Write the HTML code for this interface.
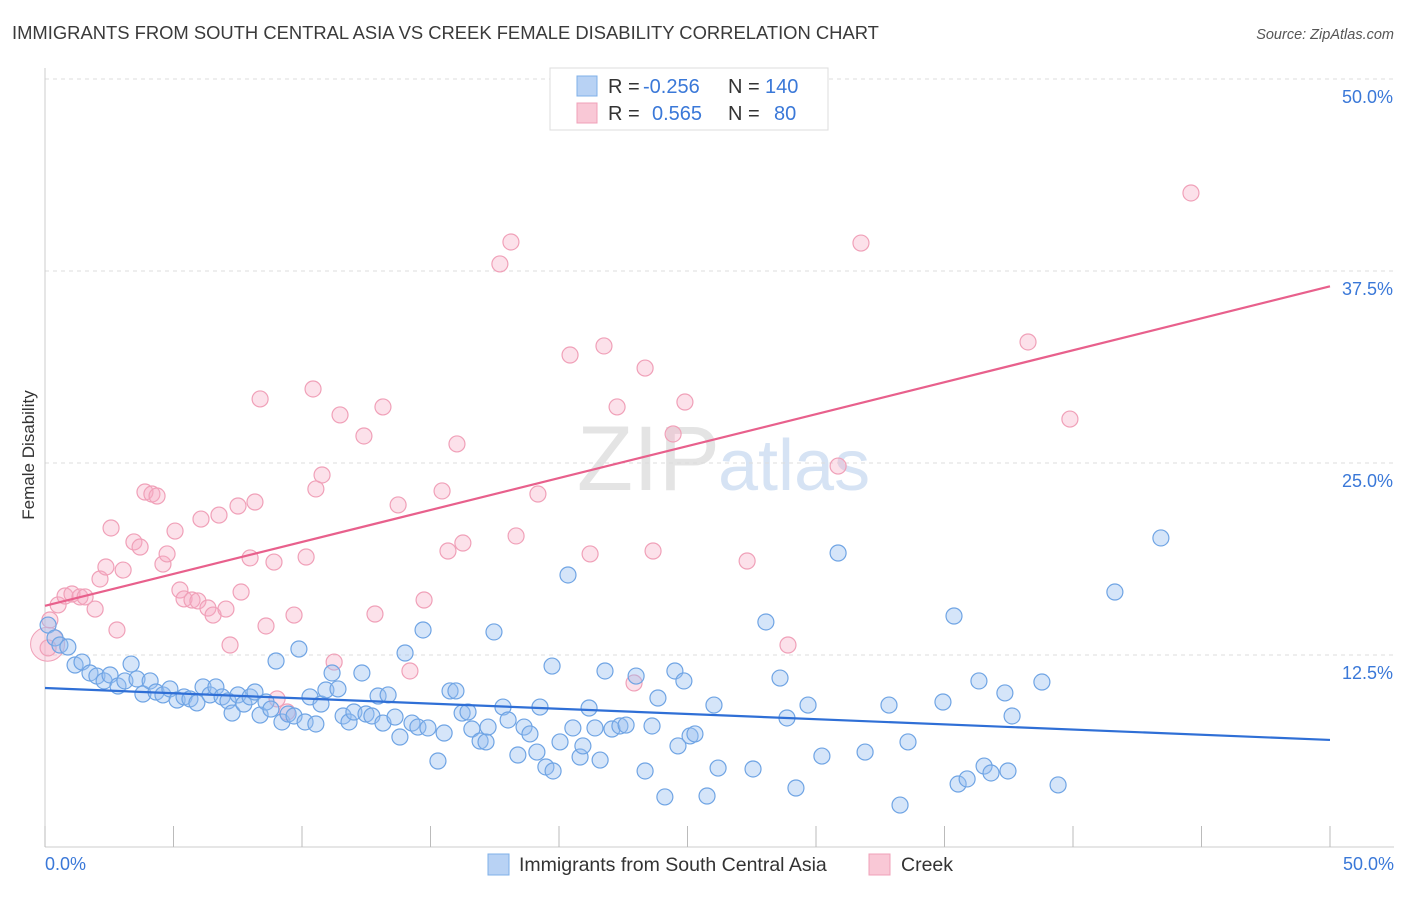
<!DOCTYPE html>
<html><head><meta charset="utf-8"><style>
body{margin:0;background:#fff;font-family:"Liberation Sans",sans-serif;}
svg text{font-family:"Liberation Sans",sans-serif;}
</style></head><body>
<svg id="chart" width="1406" height="892" viewBox="0 0 1406 892">
<text x="12" y="39" font-size="18.4" fill="#3a3a3a">IMMIGRANTS FROM SOUTH CENTRAL ASIA VS CREEK FEMALE DISABILITY CORRELATION CHART</text>
<text x="1394" y="39" font-size="14.5" fill="#555" font-style="italic" text-anchor="end">Source: ZipAtlas.com</text>
<text x="720" y="490" font-size="92" fill="#e4e4e4" text-anchor="end" font-family="Liberation Serif">ZIP</text>
<text x="718" y="490" font-size="72" fill="#d6e3f4">atlas</text>
<g id="grid"></g><g id="axes"></g><g id="marks"></g><g id="lines"></g>
<text x="34" y="455" font-size="17" fill="#333" text-anchor="middle" transform="rotate(-90 34 455)">Female Disability</text>
<g>
<rect x="550" y="68" width="278" height="62" fill="#fff" stroke="#ddd"/>
<rect x="577" y="76" width="20" height="20" fill="#b8d2f4" stroke="#7fb0e8"/>
<rect x="577" y="103" width="20" height="20" fill="#f9c8d6" stroke="#f0a0b8"/>
<text x="608" y="93" font-size="20" fill="#333">R = </text><text x="643" y="93" font-size="20" fill="#3a78d8">-0.256</text>
<text x="728" y="93" font-size="20" fill="#333">N = </text><text x="765" y="93" font-size="20" fill="#3a78d8">140</text>
<text x="608" y="120" font-size="20" fill="#333">R = </text><text x="652" y="120" font-size="20" fill="#3a78d8">0.565</text>
<text x="728" y="120" font-size="20" fill="#333">N = </text><text x="774" y="120" font-size="20" fill="#3a78d8">80</text>
</g>
<g>
<rect x="488" y="854" width="21" height="21" fill="#b8d2f4" stroke="#7fb0e8"/>
<text x="519" y="871" font-size="19.5" fill="#333">Immigrants from South Central Asia</text>
<rect x="869" y="854" width="21" height="21" fill="#f9c8d6" stroke="#f0a0b8"/>
<text x="901" y="871" font-size="19.5" fill="#333">Creek</text>
</g>
</svg>
<script>
const yTicks=[12.5,25,37.5,50];
const yTickLabels=["12.5%","25.0%","37.5%","50.0%"];
const xTickLabels=["0.0%","50.0%"];
const blueX=[.12,.39,.58,.89,1.17,1.44,1.75,2.02,2.30,2.53,2.84,3.11,3.35,3.58,3.81,4.09,4.32,4.59,4.86,5.14,5.41,5.64,5.91,6.15,6.42,6.65,6.89,7.12,7.28,7.51,7.74,7.98,8.17,8.37,8.60,8.79,8.99,9.22,9.46,9.69,9.88,10.12,10.31,10.54,10.74,10.93,11.17,11.40,11.60,11.83,12.02,12.33,12.49,12.72,12.96,13.15,13.35,13.62,13.81,14.01,14.28,14.51,14.71,14.90,15.29,15.53,15.76,15.99,16.23,16.46,16.61,16.93,17.16,17.24,17.47,17.82,18.02,18.40,18.64,18.87,19.14,19.26,19.49,19.77,19.73,20.04,20.35,20.54,20.82,20.93,21.17,21.40,21.60,21.79,22.06,22.37,22.61,23.00,23.35,23.62,23.85,24.12,24.51,24.63,24.86,25.10,25.29,25.76,26.03,26.19,27.55,28.05,28.60,28.87,29.22,29.69,30.23,30.86,31.91,32.84,33.27,33.58,34.94,35.37,35.53,35.88,36.34,36.54,36.81,37.35,37.47,37.63,38.79,39.42,41.63,43.42];
const blueY=[14.45,13.61,13.15,13.02,11.85,12.04,11.33,11.13,10.81,11.20,10.48,10.81,11.91,10.94,9.96,10.81,10.09,9.90,10.29,9.57,9.77,9.64,9.38,10.42,9.90,10.42,9.77,9.51,8.72,9.90,9.31,9.77,10.09,8.59,9.44,8.98,12.11,8.14,8.66,8.53,12.89,8.14,9.77,8.01,9.31,10.22,11.33,10.29,8.53,8.14,8.79,11.33,8.66,8.53,9.83,8.07,9.90,8.46,7.16,12.63,8.07,7.81,14.13,7.75,5.60,7.42,10.16,10.16,8.72,8.79,7.68,6.90,6.84,7.81,14.00,9.11,8.27,5.99,7.81,7.36,6.18,9.11,5.21,4.95,11.78,6.84,17.71,7.75,5.86,6.58,9.05,7.75,5.66,11.46,7.68,7.88,7.94,11.13,4.95,7.88,9.70,3.26,11.46,6.58,10.81,7.23,7.36,3.32,9.24,5.14,5.08,14.65,11.00,8.40,3.84,9.24,5.92,19.14,6.18,9.24,2.73,6.84,9.44,15.04,4.10,4.43,10.81,5.27,4.82,10.03,4.95,8.53,10.74,4.04,16.60,20.12];
const pinkX=[.12,.19,.51,.78,1.05,1.36,1.56,1.95,2.14,2.37,2.57,2.80,3.04,3.46,3.70,3.89,4.16,4.36,4.59,4.75,5.06,5.25,5.41,5.72,5.95,6.07,6.34,6.54,6.77,7.04,7.20,7.51,7.63,7.98,8.17,8.37,8.60,8.91,9.03,9.42,9.69,10.16,10.43,10.54,10.78,11.25,11.48,12.41,12.84,13.15,13.74,14.20,14.75,15.45,15.68,16.03,16.26,17.70,18.13,18.33,19.18,20.43,21.21,21.75,22.26,22.92,23.35,23.66,24.44,24.90,27.32,28.91,30.86,31.75,38.25,39.88,44.59];
const pinkY=[12.96,14.78,15.76,16.34,16.47,16.28,16.28,15.49,17.45,18.23,20.77,14.13,18.03,19.86,19.53,23.11,22.98,22.85,18.42,19.08,20.57,16.73,16.15,16.08,16.02,21.35,15.56,15.10,21.61,15.49,13.15,22.20,16.60,18.82,22.46,29.17,14.39,18.55,9.64,8.79,15.10,18.88,29.82,23.31,24.22,12.04,28.13,26.76,15.17,28.65,22.27,11.46,16.08,23.18,19.27,26.24,19.79,37.96,39.39,20.25,22.98,32.03,19.08,32.62,28.65,10.68,31.18,19.27,26.89,28.97,18.62,13.15,24.80,39.32,32.88,27.86,42.58];
const blueTrend=[10.35,6.97];
const pinkTrend=[15.7,36.5];

const NS="http://www.w3.org/2000/svg";
const X=v=>45+v*25.7, Y=v=>847-v*15.36;
function mk(tag,attrs,parent){const e=document.createElementNS(NS,tag);for(const k in attrs)e.setAttribute(k,attrs[k]);document.getElementById(parent).appendChild(e);return e;}
yTicks.forEach((t,i)=>{
 const g=mk('line',{x1:45,x2:1394,y1:Y(t),y2:Y(t),stroke:'#ddd','stroke-dasharray':'4,4'},'grid');
 
 
 const l=mk('text',{x:1393,y:Y(t)+24,'font-size':18,fill:'#3a78d8','text-anchor':'end'},'axes');
 l.textContent=yTickLabels[i];
 
 
});
let a=mk('line',{x1:45,x2:45,y1:68,y2:847,stroke:'#ccc'},'axes');


a=mk('line',{x1:45,x2:1394,y1:847,y2:847,stroke:'#ccc'},'axes');


for(let i=0;i<=10;i++){
 const t=mk('line',{x1:X(i*5),x2:X(i*5),y1:826,y2:847,stroke:'#bbb'},'axes');
 
 
}
[[0,'start',45],[50,'end',1394]].forEach((d,i)=>{
 const l=mk('text',{x:d[2],y:870,'font-size':18,fill:'#3a78d8','text-anchor':d[1]},'axes');
 l.textContent=xTickLabels[i];
 
 
});
let big=mk('circle',{cx:X(0.1),cy:Y(13.2),r:17,fill:'rgba(245,170,195,0.35)',stroke:'#f0a0b8'},'marks');


pinkX.forEach((x,i)=>{
 const c=mk('circle',{cx:X(x),cy:Y(pinkY[i]),r:8,fill:'rgba(245,170,195,0.35)',stroke:'#f0a0b8','stroke-width':1.2},'marks');
 
 
});
blueX.forEach((x,i)=>{
 const c=mk('circle',{cx:X(x),cy:Y(blueY[i]),r:8,fill:'rgba(150,190,240,0.4)',stroke:'#6fa4e4','stroke-width':1.2},'marks');
 
 
});
let tl=mk('line',{x1:X(0),x2:X(50),y1:Y(blueTrend[0]),y2:Y(blueTrend[1]),stroke:'#2f6fd6','stroke-width':2.2},'lines');


tl=mk('line',{x1:X(0),x2:X(50),y1:Y(pinkTrend[0]),y2:Y(pinkTrend[1]),stroke:'#e8608c','stroke-width':2.2},'lines');


</script>
</body></html>
